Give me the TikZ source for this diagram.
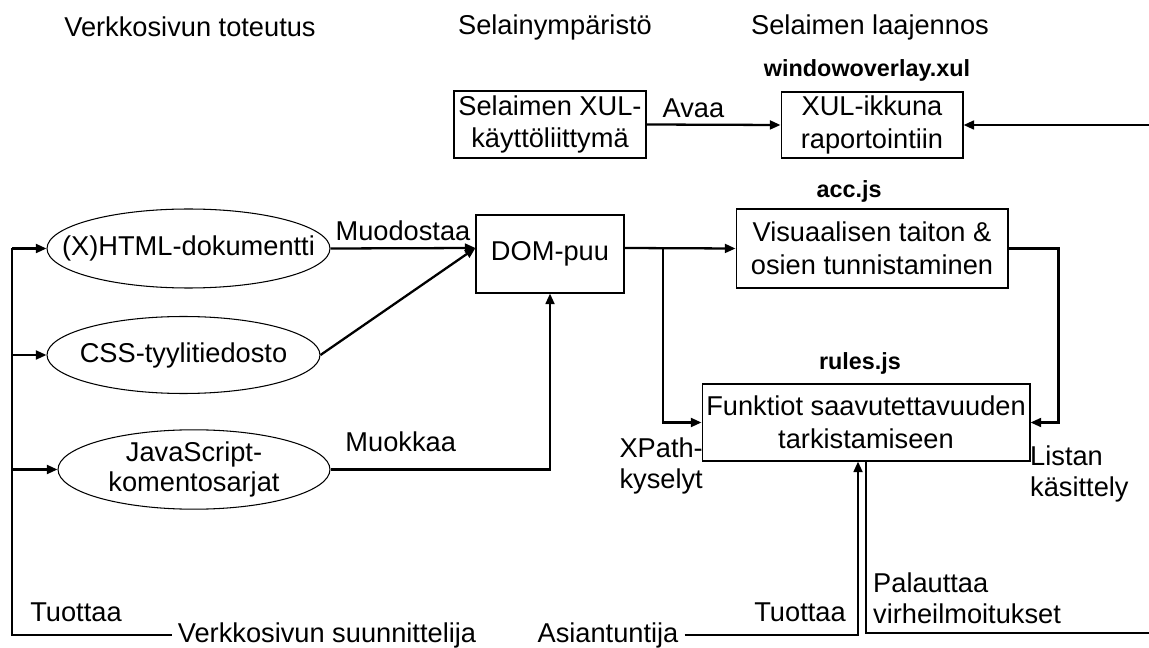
\documentclass[tikz,border=0pt]{standalone}
\usepackage{fontspec}
\setmainfont{Liberation Sans}
\usetikzlibrary{arrows.meta, positioning, shapes.geometric}

\begin{document}
\begin{tikzpicture} [x=0.02cm, y=-0.02cm, font=\fontsize{15.5}{17.5}\selectfont,
    box/.style = {draw, line width=0.6pt, inner sep=1pt, align=center,
                  font=\fontsize{15.5}{18.5}\selectfont},
    doc/.style = {draw, ellipse, line width=0.6pt, inner xsep=-3cm, inner ysep=0pt, align=center},
    file/.style = {font=\fontsize{13.3}{15}\selectfont\bfseries},
    arr/.style = {-{Triangle[length=6pt, width=5pt]}, line width=1.3pt},
    line/.style = {line width=1.3pt}]

\useasboundingbox (0,0) rectangle (1149,648);

% column headers
\node (impl) at (190,27) {Verkkosivun toteutus};
\node (env) at (555,27) {Selainympäristö};
\node (ext) at (870,27) {Selaimen laajennos};

% browser and extension
\node (xului) [box, minimum width=3.84cm, minimum height=1.34cm] at (550,124.5) {Selaimen XUL-\\käyttöliittymä};
\node (xulwin) [box, minimum width=3.64cm, minimum height=1.32cm] at (872,125) {XUL-ikkuna\\raportointiin};
\node (xulfile) [file, above=0.08cm of xulwin, xshift=-0.1cm] {windowoverlay.xul};

\node (dom) [box, minimum width=2.96cm, minimum height=1.56cm] at (550,254) {DOM-puu};
\node (layout) [box, minimum width=5.44cm, minimum height=1.58cm] at (872,248.5) {Visuaalisen taiton \&\\osien tunnistaminen};
\node (accfile) [file, above=0cm of layout, xshift=-0.46cm] {acc.js};
\node (rules) [box, minimum width=6.56cm, minimum height=1.54cm] at (866,422.5) {Funktiot saavutettavuuden\\tarkistamiseen};
\node (rulesfile) [file, above=0.06cm of rules, xshift=-0.12cm] {rules.js};

% page sources
\node (html) [doc, minimum width=5.66cm, minimum height=1.58cm] at (188.5,248.5) {(X)HTML-dokumentti};
\node (css) [doc, minimum width=5.46cm, minimum height=1.54cm] at (183.5,355) {CSS-tyylitiedosto};
\node (js) [doc, minimum width=5.44cm, minimum height=1.56cm] at (194,469.5) {JavaScript-\\komentosarjat};

% actors
\node (designer) at (327,635) {Verkkosivun suunnittelija};
\node (expert) at (608,635) {Asiantuntija};
\node (made1) at (76,612) {Tuottaa};
\node (made2) at (800,612) {Tuottaa};

\coordinate (bustop) at (12,248.5);
\coordinate (split) at (663,248);
\coordinate (rtop) at (1149,125);
\coordinate (rbot) at (1149,633);

\draw [line] (designer.west) -| (bustop);
\draw [arr] (bustop) -- (html.west);
\draw [arr] (css.west -| bustop) -- (css.west);
\draw [arr] (js.west -| bustop) -- (js.west);

\draw [arr] (html.east) -- ([yshift=0.12cm]dom.west) node (formlbl) [midway, above] {Muodostaa};
\draw [arr] (css.east) -- ([yshift=0.12cm]dom.west);
\draw [arr] (js.east) -| node (editlbl) [pos=0.16, above=6pt] {Muokkaa} (dom.south);

\draw [arr] ([yshift=0.12cm]dom.east) -- (layout.west);
\draw [arr] (split) |- (rules.west);
\draw [arr] (layout.east) -- ++(50,0) |- (rules.east);

\draw [arr] (xului.east) -- (xulwin.west) node (openlbl) [pos=0.35, above] {Avaa};
\draw [arr] (rtop) -- (xulwin.east);

\draw [arr] (expert.east) -| ([xshift=-0.16cm]rules.south);
\draw [line] (rules.south) |- (rbot);

\node (xpath) [anchor=east, align=right] at (709,466) {XPath-\\kyselyt};
\node (listlbl) [anchor=west, align=left] at (1024,474) {Listan\\käsittely};
\node (retlbl) [anchor=west, align=left] at (867,598) {Palauttaa\\virheilmoitukset};

\end{tikzpicture}
\end{document}
